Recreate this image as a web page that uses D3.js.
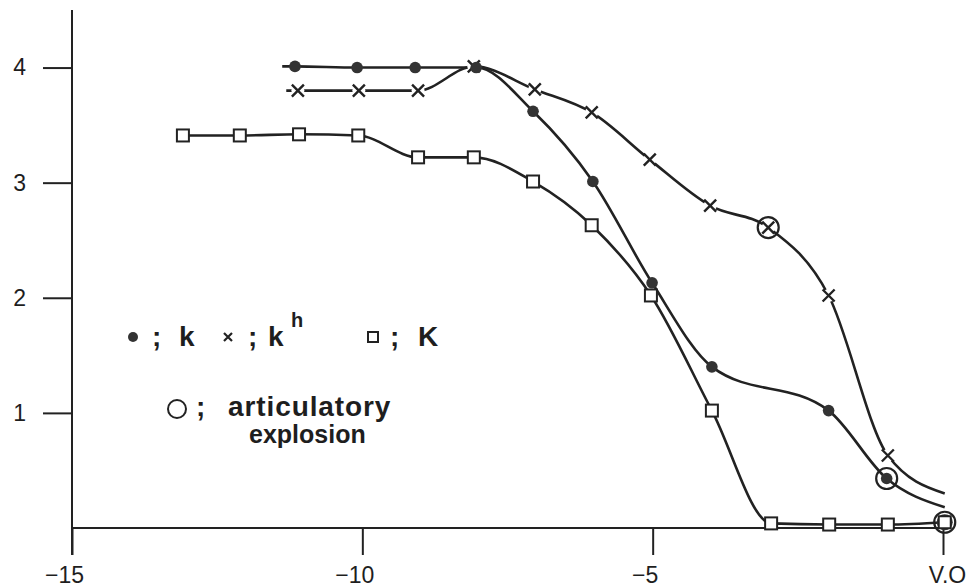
<!DOCTYPE html>
<html>
<head>
<meta charset="utf-8">
<script src="https://cdn.jsdelivr.net/npm/d3@7"></script>
<style>
  html, body { margin: 0; padding: 0; background: #fff; }
  svg { display: block; }
  text { font-family: "Liberation Sans", Arial, sans-serif; fill: #1e1e1e; }
</style>
</head>
<body>
<svg id="svg" width="968" height="588"></svg>
<script>
// --- Data ------------------------------------------------------------------
// time frames relative to vowel onset (V.O = 0)
const kX  = [-11.16, -10.09, -9.09, -8.04, -7.06, -6.03, -5.01, -3.98, -1.97, -0.97];
const kY  = [4.01, 4.0, 4.0, 4.0, 3.62, 3.01, 2.13, 1.40, 1.02, 0.43];
const kTail = [0.03, 0.18];            // curve runs on past the last dot

const khX = [-11.11, -10.06, -9.04, -8.08, -7.03, -6.05, -5.05, -4.01, -3.01, -1.97, -0.95];
const khY = [3.80, 3.80, 3.80, 4.01, 3.81, 3.61, 3.20, 2.80, 2.61, 2.02, 0.63];
const khTail = [0.03, 0.30];

const KX  = [-13.09, -12.11, -11.09, -10.07, -9.04, -8.08, -7.06, -6.05, -5.03, -3.98, -2.96, -1.96, -0.95, 0.03];
const KY  = [3.41, 3.41, 3.42, 3.41, 3.22, 3.22, 3.01, 2.63, 2.02, 1.02, 0.04, 0.03, 0.03, 0.05];

// articulatory explosion
const explX = [-3.01, -0.97, 0.03];
const explY = [2.61, 0.43, 0.05];

const xTicks = [-15, -10, -5, 0];
const xTickLabels = ["\u221215", "\u221210", "\u22125", "V.O"];
const yTicks = [1, 2, 3, 4];

// --- Chart -----------------------------------------------------------------
const svg = d3.select("#svg");
const ink = "#222";

const x = d3.scaleLinear().domain([-15, 0]).range([72, 943]);
const y = d3.scaleLinear().domain([0, 4.5]).range([528, 10]);

const pts = (xs, ys) => xs.map((v, i) => [v, ys[i]]);
const line = d3.line().x(d => x(d[0])).y(d => y(d[1])).curve(d3.curveMonotoneX);

// axes
const gx = svg.append("g").attr("transform", `translate(0,${y(0)})`)
  .call(d3.axisBottom(x).tickValues(xTicks).tickFormat((d, i) => xTickLabels[i]).tickSize(27).tickPadding(12));
const gy = svg.append("g").attr("transform", `translate(${x(-15)},0)`)
  .call(d3.axisLeft(y).tickValues(yTicks).tickFormat(d3.format("d")).tickSize(29).tickPadding(17));
gx.select(".domain").remove();
gy.select(".domain").remove();
[gx, gy].forEach(g => {
  g.selectAll("line").attr("stroke", ink).attr("stroke-width", 2);
  g.selectAll("text").attr("font-size", 23).attr("fill", ink).style("font-family", "Liberation Sans, Arial, sans-serif");
});
gx.selectAll(".tick text").attr("dx", (d, i) => i === 3 ? 4 : -8);

svg.append("line").attr("x1", x(-15)).attr("x2", x(0)).attr("y1", y(0)).attr("y2", y(0))
  .attr("stroke", ink).attr("stroke-width", 2);
svg.append("line").attr("x1", x(-15)).attr("x2", x(-15)).attr("y1", y(4.5)).attr("y2", y(0) + 27)
  .attr("stroke", ink).attr("stroke-width", 2);

// curves
const curves = svg.append("g").attr("fill", "none").attr("stroke", ink).attr("stroke-width", 2.6);
curves.append("path").attr("d", line(pts(KX, KY)));
curves.append("path").attr("d", line([[kX[0] - 0.22, kY[0]], ...pts(kX, kY), kTail]));
curves.append("path").attr("d", line([[khX[0] - 0.2, khY[0]], ...pts(khX, khY), khTail]));

// markers: crosses (with a small gap in the curve)
const kh = svg.append("g").selectAll("g").data(pts(khX, khY)).join("g")
  .attr("transform", d => `translate(${x(d[0])},${y(d[1])})`);
kh.append("circle").attr("r", 6.5).attr("fill", "#fff");
kh.append("path").attr("d", "M-6,-6L6,6M-6,6L6,-6").attr("stroke", ink).attr("stroke-width", 2.4);

// filled dots
svg.append("g").selectAll("circle").data(pts(kX, kY)).join("circle")
  .attr("cx", d => x(d[0])).attr("cy", d => y(d[1])).attr("r", 5.8).attr("fill", "#333");
svg.append("circle").attr("cx", x(explX[2])).attr("cy", y(explY[2])).attr("r", 8).attr("fill", "#333");

// squares
svg.append("g").selectAll("rect").data(pts(KX, KY)).join("rect")
  .attr("x", d => x(d[0]) - 6).attr("y", d => y(d[1]) - 6).attr("width", 12).attr("height", 12)
  .attr("fill", "#fff").attr("stroke", ink).attr("stroke-width", 2);

// articulatory explosion rings
svg.append("g").selectAll("circle").data(pts(explX, explY)).join("circle")
  .attr("cx", d => x(d[0])).attr("cy", d => y(d[1])).attr("r", 10.5)
  .attr("fill", "none").attr("stroke", ink).attr("stroke-width", 2.2);

// --- Legend ----------------------------------------------------------------
const lg = svg.append("g").attr("font-weight", "bold").attr("font-size", 28);
lg.append("circle").attr("cx", 133).attr("cy", 337).attr("r", 5).attr("fill", "#333");
lg.append("text").attr("x", 152).attr("y", 346).text(";");
lg.append("text").attr("x", 179).attr("y", 346).text("k");
lg.append("path").attr("d", "M224,333L232,341M224,341L232,333").attr("stroke", ink).attr("stroke-width", 2.2);
lg.append("text").attr("x", 248).attr("y", 346).text(";");
lg.append("text").attr("x", 268).attr("y", 346).text("k");
lg.append("text").attr("x", 291).attr("y", 327).attr("font-size", 20).text("h");
lg.append("rect").attr("x", 368).attr("y", 332).attr("width", 10).attr("height", 10)
  .attr("fill", "#fff").attr("stroke", ink).attr("stroke-width", 2);
lg.append("text").attr("x", 390).attr("y", 346).text(";");
lg.append("text").attr("x", 418).attr("y", 346).text("K");

lg.append("circle").attr("cx", 177).attr("cy", 409).attr("r", 9).attr("fill", "none")
  .attr("stroke", ink).attr("stroke-width", 2);
lg.append("text").attr("x", 196).attr("y", 416).text(";");
lg.append("text").attr("x", 228).attr("y", 416).attr("letter-spacing", 0.9).text("articulatory");
lg.append("text").attr("x", 249).attr("y", 443).attr("font-size", 25).text("explosion");
</script>
</body>
</html>
